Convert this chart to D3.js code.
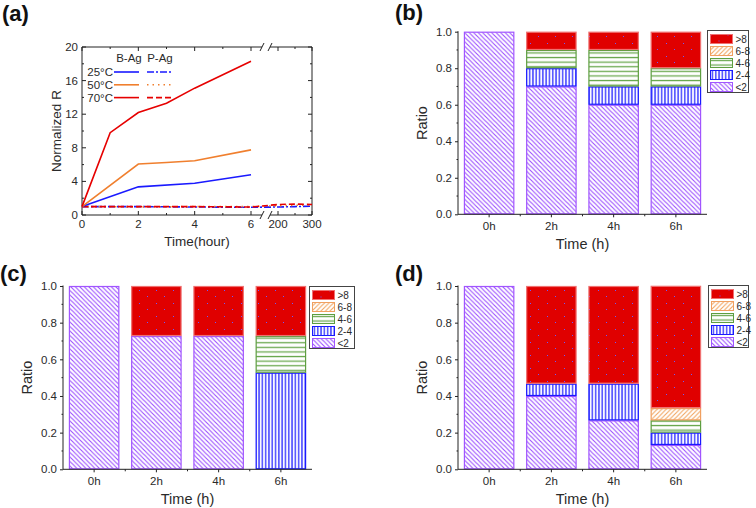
<!DOCTYPE html>
<html><head><meta charset="utf-8">
<script src="https://cdn.jsdelivr.net/npm/d3@7"></script>
<style>
body{margin:0;background:#fff}
svg{display:block;font-family:"Liberation Sans",Arial,sans-serif;font-weight:normal}
</style>
</head><body>
<svg id="c" width="756" height="508"></svg>
<script>
// ---------- Panel (a) data ----------
const tB25 = [0, 2, 4, 6];
const bAg25 = [1, 3.35, 3.78, 4.8];
const tB50 = [0, 2, 3, 4, 6];
const bAg50 = [1, 6.07, 6.25, 6.46, 7.75];
const tB70 = [0, 1, 2, 3, 4, 6];
const bAg70 = [1, 9.8, 12.2, 13.3, 15.1, 18.3];
const tP = [0, 2, 4, 6, 200, 250, 300];
const pAg25 = [1, 1.0, 0.95, 0.92, 0.95, 1.0, 1.05];
const pAg50 = [1, 0.97, 1.0, 1.0, 1.1, 1.15, 1.2];
const pAg70 = [1, 1.0, 1.0, 0.95, 1.25, 1.3, 1.25];
const aXTicks = [0, 2, 4, 6, 200, 300];
const aXMinor = [1, 3, 5, 250];
const aYTicks = [0, 4, 8, 12, 16, 20];
const aYMinor = [2, 6, 10, 14, 18];
const tempLabels = ['25°C', '50°C', '70°C'];

// ---------- Panels (b)-(d) data ----------
const categories = ['0h', '2h', '4h', '6h'];
const sizeRanges = ['<2', '2-4', '4-6', '6-8', '>8'];
const ratioTicks = [0, 0.2, 0.4, 0.6, 0.8, 1.0];
// (b)
const bLt2 = [1, 0.7, 0.6, 0.6];
const b24 = [0, 0.1, 0.1, 0.1];
const b46 = [0, 0.1, 0.2, 0.1];
const b68 = [0, 0, 0, 0];
const bGt8 = [0, 0.1, 0.1, 0.2];
// (c)
const cLt2 = [1, 0.727, 0.727, 0];
const c24 = [0, 0, 0, 0.527];
const c46 = [0, 0, 0, 0.2];
const c68 = [0, 0, 0, 0];
const cGt8 = [0, 0.273, 0.273, 0.273];
// (d)
const dLt2 = [1, 0.4, 0.267, 0.133];
const d24 = [0, 0.067, 0.2, 0.067];
const d46 = [0, 0, 0, 0.067];
const d68 = [0, 0, 0, 0.067];
const dGt8 = [0, 0.533, 0.533, 0.667];

const svg = d3.select('#c');
const defs = svg.append('defs');
const TXT = '#2a2a2a';

// ---------- patterns ----------
function pat(id, w, h) {
  return defs.append('pattern').attr('id', id).attr('patternUnits', 'userSpaceOnUse')
    .attr('width', w).attr('height', h);
}
let p = pat('p-lt2', 4.5, 4.5);
p.append('rect').attr('width', 4.5).attr('height', 4.5).attr('fill', '#fff');
p.append('path').attr('d', 'M0,0L4.5,4.5M-1,3.5L1,5.5M3.5,-1L5.5,1').attr('stroke', '#9a4dff').attr('stroke-width', 1.1);
p = pat('p-68', 4.5, 4.5);
p.append('rect').attr('width', 4.5).attr('height', 4.5).attr('fill', '#fff');
p.append('path').attr('d', 'M0,4.5L4.5,0M-1,1L1,-1M3.5,5.5L5.5,3.5').attr('stroke', '#f2a45e').attr('stroke-width', 1.1);
p = pat('p-24', 3.3, 10);
p.append('rect').attr('width', 3.3).attr('height', 10).attr('fill', '#fff');
p.append('rect').attr('x', 0.8).attr('width', 1.7).attr('height', 10).attr('fill', '#5c5cff');
p = pat('p-46', 10, 4.6);
p.append('rect').attr('width', 10).attr('height', 4.6).attr('fill', '#fff');
p.append('rect').attr('y', 1.7).attr('width', 10).attr('height', 1.3).attr('fill', '#6aa84f');
p = pat('p-gt8', 17, 13);
p.append('rect').attr('width', 17).attr('height', 13).attr('fill', '#e00000');
p.append('rect').attr('x', 3).attr('y', 4).attr('width', 1).attr('height', 1).attr('fill', '#6a5cff');
p.append('rect').attr('x', 11).attr('y', 10).attr('width', 1).attr('height', 1).attr('fill', '#6a5cff');

const fillOf = {'<2': 'url(#p-lt2)', '2-4': 'url(#p-24)', '4-6': 'url(#p-46)', '6-8': 'url(#p-68)', '>8': 'url(#p-gt8)'};
const strokeOf = {'<2': '#a155ff', '2-4': '#1a1aff', '4-6': '#5e9e40', '6-8': '#f0a060', '>8': '#f07070'};

// ---------- panel labels ----------
[['(a)', 2, 21], ['(b)', 395, 20], ['(c)', 0, 281], ['(d)', 395, 281]].forEach(([t, x, y]) => {
  svg.append('text').attr('x', x).attr('y', y).attr('font-size', 22).attr('font-weight', 'bold').attr('fill', '#111').text(t);
});

// ---------- Panel (a) ----------
(function () {
  const g = svg.append('g');
  const x = d3.scaleLinear().domain([0, 6, 200, 300]).range([82, 251, 278, 312]);
  const y = d3.scaleLinear().domain([0, 20]).range([215, 47]);
  const L = 82, R = 312, T = 47, B = 215, bk1 = 262, bk2 = 270;
  const ax = '#222';
  g.append('line').attr('x1', L).attr('x2', L).attr('y1', T).attr('y2', B).attr('stroke', ax);
  g.append('line').attr('x1', R).attr('x2', R).attr('y1', T).attr('y2', B).attr('stroke', ax);
  [T, B].forEach(yy => {
    g.append('line').attr('x1', L).attr('x2', bk1).attr('y1', yy).attr('y2', yy).attr('stroke', ax);
    g.append('line').attr('x1', bk2).attr('x2', R).attr('y1', yy).attr('y2', yy).attr('stroke', ax);
    g.append('path').attr('d', `M${bk1 - 2},${yy + 4}L${bk1 + 2},${yy - 4}M${bk2 - 2},${yy + 4}L${bk2 + 2},${yy - 4}`)
      .attr('stroke', ax).attr('fill', 'none');
  });
  aXTicks.forEach(v => {
    g.append('line').attr('x1', x(v)).attr('x2', x(v)).attr('y1', B).attr('y2', B - 4).attr('stroke', ax);
    g.append('line').attr('x1', x(v)).attr('x2', x(v)).attr('y1', T).attr('y2', T + 4).attr('stroke', ax);
    g.append('text').attr('x', x(v)).attr('y', B + 13).attr('text-anchor', 'middle').attr('font-size', 11.5).attr('fill', TXT).text(v);
  });
  aXMinor.forEach(v => {
    g.append('line').attr('x1', x(v)).attr('x2', x(v)).attr('y1', B).attr('y2', B - 2).attr('stroke', ax);
    g.append('line').attr('x1', x(v)).attr('x2', x(v)).attr('y1', T).attr('y2', T + 2).attr('stroke', ax);
  });
  aYTicks.forEach(v => {
    g.append('line').attr('x1', L).attr('x2', L + 4).attr('y1', y(v)).attr('y2', y(v)).attr('stroke', ax);
    g.append('line').attr('x1', R).attr('x2', R - 4).attr('y1', y(v)).attr('y2', y(v)).attr('stroke', ax);
    g.append('text').attr('x', L - 4).attr('y', y(v) + 4).attr('text-anchor', 'end').attr('font-size', 11.5).attr('fill', TXT).text(v);
  });
  aYMinor.forEach(v => {
    g.append('line').attr('x1', L).attr('x2', L + 2).attr('y1', y(v)).attr('y2', y(v)).attr('stroke', ax);
    g.append('line').attr('x1', R).attr('x2', R - 2).attr('y1', y(v)).attr('y2', y(v)).attr('stroke', ax);
  });
  g.append('text').attr('transform', 'translate(61,131) rotate(-90)').attr('text-anchor', 'middle')
    .attr('font-size', 13.5).attr('fill', TXT).text('Normalized R');
  g.append('text').attr('x', 197).attr('y', 246).attr('text-anchor', 'middle')
    .attr('font-size', 13.5).attr('fill', TXT).text('Time(hour)');

  const line = d3.line().x(d => x(d[0])).y(d => y(d[1]));
  const series = [
    {t: tP, v: pAg25, c: '#1a1aff', dash: '7,2,2,2'},
    {t: tP, v: pAg50, c: '#f07f2e', dash: '1.5,4'},
    {t: tP, v: pAg70, c: '#e60000', dash: '6,3'},
    {t: tB25, v: bAg25, c: '#1a1aff', dash: null},
    {t: tB50, v: bAg50, c: '#f07f2e', dash: null},
    {t: tB70, v: bAg70, c: '#e60000', dash: null},
  ];
  series.forEach(s => {
    g.append('path').datum(s.t.map((t, i) => [t, s.v[i]])).attr('d', line)
      .attr('fill', 'none').attr('stroke', s.c).attr('stroke-width', 1.6)
      .attr('stroke-dasharray', s.dash);
  });
  g.append('text').attr('x', 129).attr('y', 62).attr('text-anchor', 'middle').attr('font-size', 11.5).attr('fill', TXT).text('B-Ag');
  g.append('text').attr('x', 160).attr('y', 62).attr('text-anchor', 'middle').attr('font-size', 11.5).attr('fill', TXT).text('P-Ag');
  const lc = ['#1a1aff', '#f07f2e', '#e60000'];
  const ld = ['7,2,2,2', '1.5,4', '6,3'];
  tempLabels.forEach((t, i) => {
    const yy = 72 + i * 12.8;
    g.append('text').attr('x', 113).attr('y', yy + 4).attr('text-anchor', 'end').attr('font-size', 11.5).attr('fill', TXT).text(t);
    g.append('line').attr('x1', 114).attr('x2', 139).attr('y1', yy).attr('y2', yy).attr('stroke', lc[i]).attr('stroke-width', 1.6);
    g.append('line').attr('x1', 147).attr('x2', 171).attr('y1', yy).attr('y2', yy).attr('stroke', lc[i]).attr('stroke-width', 1.6).attr('stroke-dasharray', ld[i]);
  });
})();

// ---------- bar panels ----------
function barPanel(o) {
  const g = svg.append('g');
  const rows = categories.map((c, i) => ({cat: c, '<2': o.lt2[i], '2-4': o.r24[i], '4-6': o.r46[i], '6-8': o.r68[i], '>8': o.gt8[i]}));
  const stack = d3.stack().keys(sizeRanges)(rows);
  const x = d3.scaleBand().domain(categories).range([o.L, o.R]).paddingInner(0.19).paddingOuter(0.095);
  const y = d3.scaleLinear().domain([0, 1]).range([o.B, o.T]);
  const ax = '#222';
  stack.forEach(layer => {
    layer.forEach(d => {
      if (d[1] - d[0] <= 0.0001) return;
      g.append('rect').attr('x', x(d.data.cat) + 0.5).attr('width', x.bandwidth() - 1)
        .attr('y', y(d[1]) + 0.5).attr('height', y(d[0]) - y(d[1]) - 1)
        .attr('fill', fillOf[layer.key]).attr('stroke', strokeOf[layer.key]).attr('stroke-width', 1.2);
    });
  });
  const ya = d3.axisLeft(y).tickValues(ratioTicks).tickFormat(d3.format('.1f')).tickSize(3).tickPadding(3);
  const yg = g.append('g').attr('transform', `translate(${o.L},0)`).call(ya);
  yg.select('.domain').attr('stroke', ax).attr('d', `M0,${o.B}V${o.T - 0.5}`);
  yg.selectAll('text').attr('font-size', 11.5).attr('fill', TXT).attr('font-family', '"Liberation Sans",Arial,sans-serif');
  yg.selectAll('line').attr('stroke', ax);
  [0.1, 0.3, 0.5, 0.7, 0.9].forEach(v => {
    g.append('line').attr('x1', o.L).attr('x2', o.L - 1.5).attr('y1', y(v)).attr('y2', y(v)).attr('stroke', ax);
  });
  const xa = d3.axisBottom(x).tickSize(3).tickPadding(5);
  const xg = g.append('g').attr('transform', `translate(0,${o.B})`).call(xa);
  xg.select('.domain').attr('stroke', ax).attr('d', `M${o.L},0H${o.R}`);
  xg.selectAll('text').attr('font-size', 11.5).attr('fill', TXT).attr('font-family', '"Liberation Sans",Arial,sans-serif');
  xg.selectAll('line').attr('stroke', ax);
  categories.slice(1).forEach(c => {
    const xx = x(c) - x.step() * x.paddingInner() / 2;
    g.append('line').attr('x1', xx).attr('x2', xx).attr('y1', o.B).attr('y2', o.B + 2).attr('stroke', ax);
  });
  g.append('text').attr('transform', `translate(${o.ylx},${(o.T + o.B) / 2}) rotate(-90)`).attr('text-anchor', 'middle')
    .attr('font-size', 14.5).attr('fill', TXT).text('Ratio');
  g.append('text').attr('x', (o.L + o.R) / 2).attr('y', o.B + 35).attr('text-anchor', 'middle')
    .attr('font-size', 14.5).attr('fill', TXT).text('Time (h)');
  const lg = g.append('g').attr('transform', `translate(${o.lx},${o.ly})`);
  lg.append('rect').attr('width', o.lw).attr('height', 62).attr('fill', '#fff').attr('stroke', '#444').attr('stroke-width', 1);
  sizeRanges.slice().reverse().forEach((k, i) => {
    const cy = 8.5 + i * 12;
    lg.append('rect').attr('x', 3).attr('y', cy - 4.5).attr('width', 22).attr('height', 9)
      .attr('fill', fillOf[k]).attr('stroke', strokeOf[k]).attr('stroke-width', 1);
    lg.append('text').attr('x', 28).attr('y', cy + 3.5).attr('font-size', 10).attr('fill', TXT).text(k);
  });
}

barPanel({lt2: bLt2, r24: b24, r46: b46, r68: b68, gt8: bGt8, L: 458, R: 707, T: 31.7, B: 214.3, ylx: 427, lx: 707.5, ly: 30.5, lw: 41});
barPanel({lt2: cLt2, r24: c24, r46: c46, r68: c68, gt8: cGt8, L: 63, R: 312, T: 286, B: 469.3, ylx: 32, lx: 309.5, ly: 286.5, lw: 45});
barPanel({lt2: dLt2, r24: d24, r46: d46, r68: d68, gt8: dGt8, L: 458, R: 707, T: 286, B: 469.3, ylx: 427, lx: 708.5, ly: 285.5, lw: 40});
</script>
</body></html>
